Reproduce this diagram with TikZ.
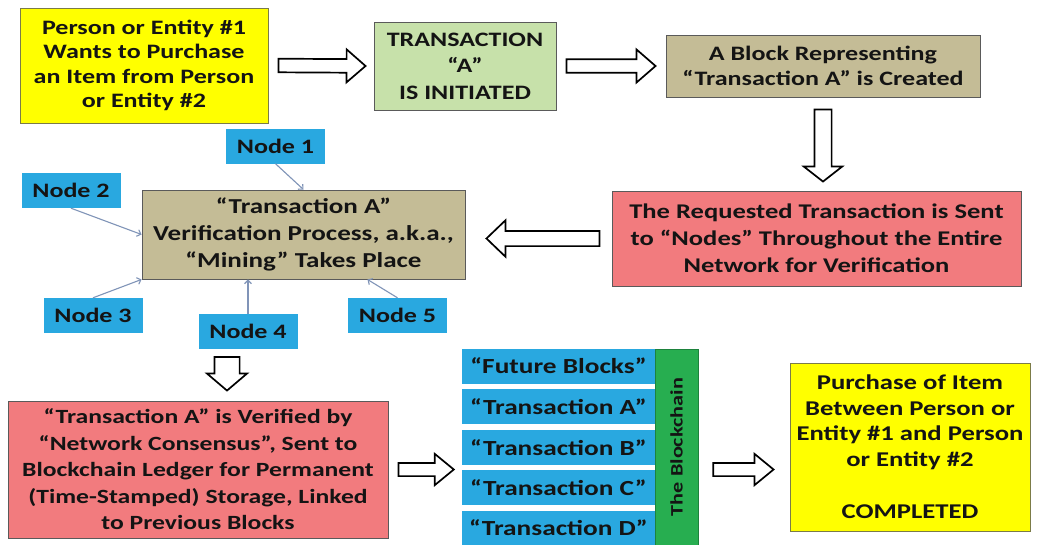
\documentclass[tikz,border=0pt]{standalone}
\usepackage{fontspec}
\setmainfont{Carlito}[FakeStretch=1.27]
\usetikzlibrary{calc,arrows.meta}
\definecolor{cyellow}{HTML}{FFFF00}
\definecolor{cgreen}{HTML}{C7E1AA}
\definecolor{ctan}{HTML}{C4BC96}
\definecolor{cred}{HTML}{F27B7E}
\definecolor{cblue}{HTML}{29A8E0}
\definecolor{cbar}{HTML}{27AE50}
\definecolor{cline}{HTML}{8094B8}
\definecolor{ctext}{HTML}{141414}
\definecolor{cborder}{HTML}{5A5A5A}
\tikzset{
  box/.style={draw=cborder, line width=0.9pt, align=center, inner sep=0pt, text=ctext,
    font=\bfseries\fontsize{20}{24.4}\selectfont},
  netnode/.style={fill=cblue, inner sep=0pt, text=ctext, minimum width=99pt, minimum height=35pt,
    font=\bfseries\fontsize{20.5}{24}\selectfont},
  chainblock/.style={fill=cblue, inner sep=0pt, text=ctext, minimum width=193pt, minimum height=35pt,
    font=\bfseries\fontsize{21.5}{26}\selectfont},
  thinconn/.style={draw=cline, line width=1.1pt, -{Straight Barb[length=3.5pt,width=7pt]}},
  barrow/.style n args={3}{draw=black, line width=1.7pt, fill=white, line join=miter,
    to path={($(\tikztostart)!#1!90:(\tikztotarget)$)
      -- ($($(\tikztotarget)!#3!(\tikztostart)$)!#1!90:(\tikztotarget)$)
      -- ($($(\tikztotarget)!#3!(\tikztostart)$)!#2!90:(\tikztotarget)$)
      -- (\tikztotarget)
      -- ($($(\tikztotarget)!#3!(\tikztostart)$)!#2!-90:(\tikztotarget)$)
      -- ($($(\tikztotarget)!#3!(\tikztostart)$)!#1!-90:(\tikztotarget)$)
      -- ($(\tikztostart)!#1!-90:(\tikztotarget)$) -- cycle}}
}
\begin{document}
\begin{tikzpicture}[x=1pt,y=-1pt]
\fill[white] (0,0) rectangle (1037,544);
\useasboundingbox (0,0) rectangle (1037,544);

% top row
\node[box, fill=cyellow, draw=cborder!80!yellow, minimum width=248pt, minimum height=115pt,
  font=\bfseries\fontsize{20.5}{24.5}\selectfont] (b1) at (144,65.5)
  {Person or Entity \#1\\Wants to Purchase\\an Item from Person\\or Entity \#2};
\node[box, fill=cgreen, minimum width=182pt, minimum height=88pt,
  font=\bfseries\fontsize{20.5}{26.5}\selectfont] (b2) at (465,66)
  {TRANSACTION\\“A”\\IS INITIATED};
\node[box, fill=ctan, minimum width=314pt, minimum height=62pt,
  font=\bfseries\fontsize{20.5}{24.5}\selectfont] (b3) at (823,66)
  {A Block Representing\\“Transaction A” is Created};

% middle row
\node[box, fill=cred, minimum width=409pt, minimum height=95pt,
  font=\bfseries\fontsize{20.9}{27}\selectfont] (red1) at (816.5,238.5)
  {The Requested Transaction is Sent\\to “Nodes” Throughout the Entire\\Network for Verification};
\node[box, fill=ctan, minimum width=323pt, minimum height=89pt,
  font=\bfseries\fontsize{21.3}{27}\selectfont] (tan) at (303.5,234.5)
  {“Transaction A”\\Verification Process, a.k.a.,\\“Mining” Takes Place};

\node[netnode] (n1) at (275.5,146) {Node 1};
\node[netnode] (n2) at (71,190.5) {Node 2};
\node[netnode] (n3) at (93,315.5) {Node 3};
\node[netnode] (n4) at (248,331.5) {Node 4};
\node[netnode] (n5) at (397.5,315.5) {Node 5};

\draw[thinconn] (n1.south) -- (tan.north);
\draw[thinconn] (n2.south) -- (tan.west);
\draw[thinconn] (n3.north) -- (tan.south west);
\draw[thinconn] (n4.north) -- (n4.north |- tan.south);
\draw[thinconn] (n5.north) -- ($(tan.south east)+(-98,0)$);

% bottom row
\node[box, fill=cred, minimum width=380pt, minimum height=137pt,
  font=\bfseries\fontsize{20.2}{26.5}\selectfont] (red2) at (198,469.5)
  {“Transaction A” is Verified by\\“Network Consensus”, Sent to\\Blockchain Ledger for Permanent\\(Time-Stamped) Storage, Linked\\to Previous Blocks};

\node[chainblock] (k0) at (558.5,366) {“Future Blocks”};
\node[chainblock] (k1) at (558.5,406.5) {“Transaction A”};
\node[chainblock] (k2) at (558.5,447.5) {“Transaction B”};
\node[chainblock] (k3) at (558.5,487.5) {“Transaction C”};
\node[chainblock] (k4) at (558.5,528) {“Transaction D”};
\node[fill=cbar, draw=cbar!75!black, line width=0.6pt, inner sep=0pt, minimum width=43pt, minimum height=196pt,
  text=ctext, font=\bfseries\fontsize{17.5}{20}\selectfont] (bar) at (676.5,447)
  {\rotatebox{90}{The Blockchain}};

\node[box, fill=cyellow, draw=cborder!80!yellow, minimum width=240pt, minimum height=168pt,
  font=\bfseries\fontsize{21}{25.5}\selectfont] (y2) at (910,447)
  {Purchase of Item\\Between Person or\\Entity \#1 and Person\\or Entity \#2\\[27pt]COMPLETED};

% block arrows
\draw[barrow={6.8pt}{16.5pt}{19pt}] ($(b1.east)+(10,0)$) to ($(b2.west)+(-8,0)$);
\draw[barrow={6.8pt}{16.5pt}{19pt}] ($(b2.east)+(10,0)$) to ($(b3.west)+(-10,0)$);
\draw[barrow={8.6pt}{19.2pt}{15pt}] ($(b3.south)+(0,12)$) to ($(b3.south |- red1.north)+(0,-9)$);
\draw[barrow={7.6pt}{18.2pt}{19pt}] ($(red1.west)+(-12,0)$) to ($(tan.east |- red1.west)+(21,0)$);
\coordinate (d2) at (227,357);
\draw[barrow={12.6pt}{20pt}{17pt}] (d2) to ($(d2 |- red2.north)+(0,-10)$);
\draw[barrow={6.6pt}{15.6pt}{19pt}] ($(red2.east)+(10,0)$) to ($(k0.west |- red2.east)+(-8,0)$);
\draw[barrow={6.6pt}{15.6pt}{19pt}] ($(bar.east |- red2.east)+(15,0)$) to ($(y2.west |- red2.east)+(-16,0)$);
\end{tikzpicture}
\end{document}
